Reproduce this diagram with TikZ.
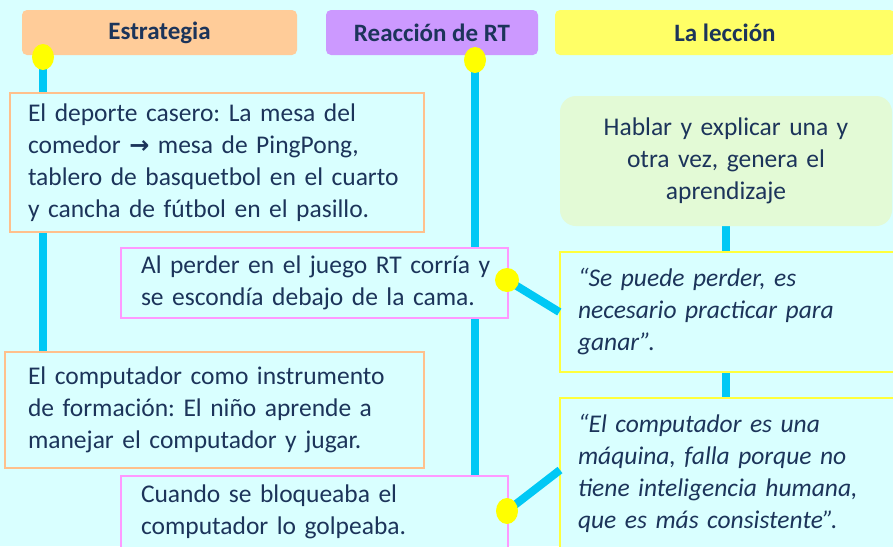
\documentclass[tikz,border=0pt]{standalone}
\usepackage{fontspec}
\setmainfont{Carlito}
\newfontfamily\symfont{DejaVu Sans}
\usetikzlibrary{shapes.geometric}
\pgfdeclarelayer{bg}
\pgfsetlayers{bg,main}
\frenchspacing
\definecolor{bgc}{RGB}{217,255,255}
\definecolor{txt}{RGB}{28,52,90}
\definecolor{peach}{RGB}{255,204,153}
\definecolor{lilac}{RGB}{204,153,255}
\definecolor{lemon}{RGB}{255,255,102}
\definecolor{orangeb}{RGB}{255,192,140}
\definecolor{pinkb}{RGB}{255,153,255}
\definecolor{yellowb}{RGB}{255,255,60}
\definecolor{mint}{RGB}{227,250,214}
\definecolor{cyanl}{RGB}{0,200,245}
\definecolor{dotc}{RGB}{255,255,0}
\tikzset{
  x=1pt, y=-1pt,
  body/.style={font=\frenchspacing\fontsize{25.5}{32}\selectfont, text=txt},
  head/.style={font=\fontsize{25}{30}\selectfont\bfseries, text=txt, rounded corners=5pt, minimum height=45pt, inner sep=0pt},
  obox/.style={body, draw=orangeb, line width=1.6pt, fill=bgc, align=left},
  pbox/.style={body, draw=pinkb, line width=1.2pt, fill=bgc, align=left},
  ybox/.style={body, draw=yellowb, line width=1.4pt, fill=bgc, align=left, font=\frenchspacing\fontsize{25.5}{32}\selectfont\itshape},
  link/.style={draw=cyanl, line width=8pt},
  ydot/.style={ellipse, fill=dotc, inner sep=0pt, minimum width=22pt, minimum height=26pt},
}
\begin{document}
\begin{tikzpicture}
\useasboundingbox (0,0) rectangle (893,546);
\clip (0,0) rectangle (893,546);

% headers
\node[head, fill=peach, minimum width=275pt] (hE) at (159.5,32.5) {Estrategia};
\node[head, fill=lilac, minimum width=212pt] (hR) at (432,32.5) {Reacción de RT};
\node[head, fill=lemon, minimum width=340pt] (hL) at (725,32.5) {La lección};

% left column
\node[obox, text width=378pt, inner xsep=18pt, minimum height=139pt] (b1) at (217,162.5)
  {\mbox{El deporte casero: La mesa del}\\ \mbox{comedor {\symfont\bfseries\fontsize{24}{32}\selectfont →} mesa de PingPong,}\\ \mbox{tablero de basquetbol en el cuarto}\\ \mbox{y cancha de fútbol en el pasillo.}};
\node[obox, text width=373pt, inner xsep=23pt, minimum height=116pt] (b3) at (214.5,410)
  {\mbox{El computador como instrumento}\\ \mbox{de formación: El niño aprende a}\\ \mbox{manejar el computador y jugar.}};

% middle column
\node[pbox, text width=347pt, inner xsep=20pt, minimum height=70pt] (b2) at (314.5,283)
  {\mbox{Al perder en el juego RT corría y}\\ \mbox{se escondía debajo de la cama.}};
\node[pbox, text width=347pt, inner xsep=20pt, minimum height=72pt] (b4) at (314.5,512)
  {Cuando se bloqueaba el\\ computador lo golpeaba.};

% right column
\node[body, fill=mint, rounded corners=16pt, minimum width=332pt, minimum height=130pt, text width=310pt, align=center] (g) at (726,161)
  {Hablar y explicar una y\\ otra vez, genera el\\ aprendizaje};
\node[ybox, text width=300pt, inner xsep=18pt, minimum height=120pt] (y1) at (728,312)
  {“Se puede perder, es\\ \mbox{necesario practicar para}\\ ganar”.};
\node[ybox, text width=300pt, inner xsep=18pt, minimum height=150pt] (y2) at (728,473)
  {“El computador es una\\ \mbox{máquina, falla porque no}\\ \mbox{tiene inteligencia humana,}\\ \mbox{que es más consistente”.}};

% dot positions
\coordinate (cE) at (43,57);
\coordinate (cR) at (475,60);
\coordinate (c2) at (507,280);
\coordinate (c4) at (507,511);
\coordinate (y2in) at (560,470);

\begin{pgfonlayer}{bg}
\fill[bgc] (0,0) rectangle (893,546);
\draw[link] (cE) -- (cE |- b1.north);
\draw[link] (b1.south -| cE) -- (b3.north -| cE);
\draw[link] (cR) -- (cR |- b2.north);
\draw[link] (b2.south -| cR) -- (b4.north -| cR);
\draw[link] (g.south) -- (g.south |- y1.north);
\draw[link] (y1.south -| g.south) -- (y2.north -| g.south);
\end{pgfonlayer}
\draw[link] (c2) -- (y1.west);
\draw[link] (c4) -- (y2in);

\node[ydot] (dE) at (cE) {};
\node[ydot] (dR) at (cR) {};
\node[ydot, minimum width=24pt, minimum height=24pt] (d2) at (c2) {};
\node[ydot] (d4) at (c4) {};
\end{tikzpicture}
\end{document}
